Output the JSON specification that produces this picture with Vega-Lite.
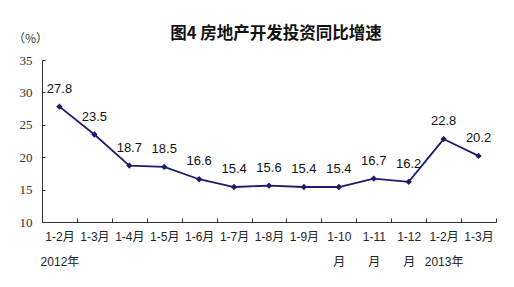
{
  "$schema": "https://vega.github.io/schema/vega-lite/v6.json",
  "width": 454,
  "height": 162,
  "autosize": {"type": "none"},
  "padding": {"left": 42, "top": 60, "right": 18, "bottom": 65},
  "background": "white",
  "title": {
    "text": "图4  房地产开发投资同比增速",
    "font": "Noto Sans CJK SC",
    "fontSize": 16.5,
    "fontWeight": "bold",
    "color": "#111111",
    "anchor": "middle",
    "dx": 7,
    "dy": 30,
    "offset": 20
  },
  "config": {"view": {"stroke": null}},
  "data": {
    "values": [
      {"period": "1-2月|2012年", "value": 27.8},
      {"period": "1-3月", "value": 23.5},
      {"period": "1-4月", "value": 18.7},
      {"period": "1-5月", "value": 18.5},
      {"period": "1-6月", "value": 16.6},
      {"period": "1-7月", "value": 15.4},
      {"period": "1-8月", "value": 15.6},
      {"period": "1-9月", "value": 15.4},
      {"period": "1-10|月", "value": 15.4},
      {"period": "1-11|月", "value": 16.7},
      {"period": "1-12|月", "value": 16.2},
      {"period": "1-2月|2013年", "value": 22.8},
      {"period": "1-3月 ", "value": 20.2}
    ]
  },
  "encoding": {
    "x": {
      "field": "period",
      "type": "ordinal",
      "sort": null,
      "scale": {"type": "band", "paddingInner": 0, "paddingOuter": 0},
      "axis": {
        "title": null,
        "labelAngle": 0,
        "labelExpr": "split(datum.label, '|')",
        "labelFont": "Liberation Sans, Noto Sans CJK SC",
        "labelFontSize": 12,
        "labelColor": "#222222",
        "labelLineHeight": 25,
        "labelPadding": 13,
        "tickBand": "extent",
        "tickSize": -4,
        "tickColor": "#333333",
        "domainColor": "#333333",
        "labelOverlap": false,
        "labelFlush": false
      }
    },
    "y": {
      "field": "value",
      "type": "quantitative",
      "scale": {"domain": [10, 35], "nice": false, "zero": false},
      "axis": {
        "values": [10, 15, 20, 25, 30, 35],
        "grid": false,
        "tickSize": -3,
        "tickColor": "#333333",
        "domainColor": "#333333",
        "labelFont": "Liberation Serif",
        "labelFontSize": 13,
        "labelColor": "#333333",
        "labelPadding": 13,
        "title": "（%）",
        "titleAngle": 0,
        "titleFont": "Noto Sans CJK SC",
        "titleFontSize": 12,
        "titleFontWeight": "normal",
        "titleColor": "#333333",
        "titleAlign": "center",
        "titleBaseline": "middle",
        "titleX": -12,
        "titleY": -22
      }
    }
  },
  "layer": [
    {
      "mark": {
        "type": "line",
        "color": "#1c1c6e",
        "strokeWidth": 1.8,
        "point": {"shape": "diamond", "size": 40, "filled": true, "color": "#1c1c6e"}
      }
    },
    {
      "mark": {
        "type": "text",
        "dy": -18,
        "font": "Liberation Sans",
        "fontSize": 13,
        "color": "#111111"
      },
      "encoding": {"text": {"field": "value", "type": "quantitative", "format": ".1f"}}
    }
  ]
}
